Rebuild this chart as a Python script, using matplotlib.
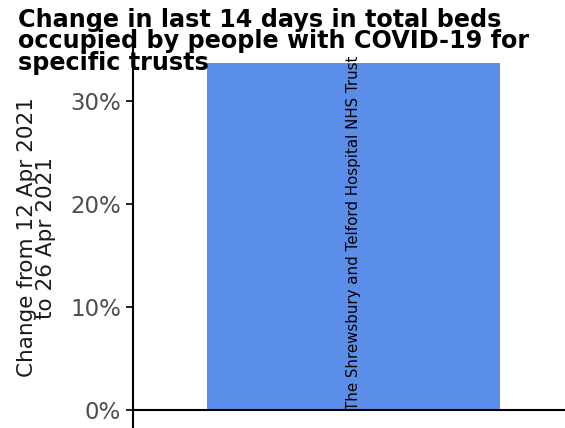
import matplotlib
matplotlib.use("Agg")
import matplotlib.pyplot as plt

# data
trusts = ["The Shrewsbury and Telford Hospital NHS Trust"]
changes = [33.7]
yticks = [0, 10, 20, 30]
ytick_labels = ["0%", "10%", "20%", "30%"]

fig = plt.figure(figsize=(5.65, 4.28), dpi=100)
ax = fig.add_axes([0.2354, -0.028, 1.2, 0.946])

xs = list(range(len(trusts)))
ax.bar(xs, changes, width=0.8, color="#5b8ee8")
for x, name in zip(xs, trusts):
    ax.text(x, 0, name, rotation=90, ha="center", va="bottom",
            fontsize=10.8, color="black")

ax.axhline(0, color="black", linewidth=1.5)
ax.set_xlim(-0.602, 1.25)
ax.set_ylim(-2.9, 36.4)
ax.set_yticks(yticks)
ax.set_yticklabels(ytick_labels)
ax.set_xticks([])
ax.tick_params(axis="y", labelsize=16.5, labelcolor="#4d4d4d", length=5, width=1.2)
for s in ["top", "right", "bottom"]:
    ax.spines[s].set_visible(False)
ax.spines["left"].set_linewidth(1.5)
ax.set_ylabel("Change from 12 Apr 2021\nto 26 Apr 2021", fontsize=15.5,
              linespacing=0.95, labelpad=10, color="#1a1a1a")

fig.text(18 / 565, 1 - 8 / 428,
         "Change in last 14 days in total beds\noccupied by people with COVID-19 for\nspecific trusts",
         fontsize=17.2, fontweight="bold", ha="left", va="top", linespacing=0.86)

fig.savefig("out.png", dpi=100)
